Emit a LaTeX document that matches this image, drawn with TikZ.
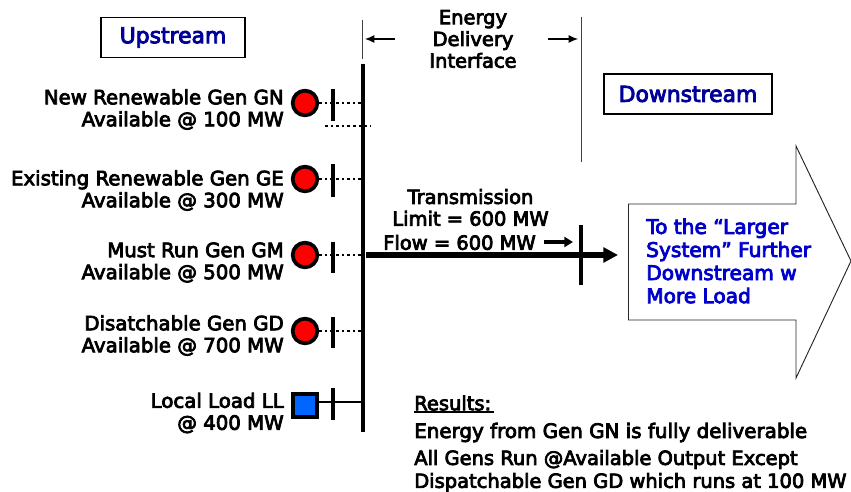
\documentclass[tikz,border=0pt]{standalone}
\usepackage{fontspec}
\setmainfont{DejaVu Sans}[FakeBold=4]
\usetikzlibrary{arrows.meta}
\definecolor{titleblue}{RGB}{0,0,153}
\definecolor{textblue}{RGB}{0,0,204}
\definecolor{genred}{RGB}{255,0,0}
\definecolor{loadblue}{RGB}{0,102,255}
\tikzset{
 x=0.75pt,y=-0.75pt,
 lbl/.style={inner sep=0,font=\fontsize{14.8}{16.5}\selectfont,align=right,anchor=east},
 ctr/.style={inner sep=0,font=\fontsize{14.6}{16.3}\selectfont,align=center},
 res/.style={inner sep=0,font=\fontsize{14.6}{17.2}\selectfont,align=left,anchor=west},
 titlebox/.style={draw=black,line width=0.9pt,fill=white,text=titleblue,font=\fontsize{16.4}{18}\selectfont,inner sep=0},
 gen/.style={circle,draw=black,line width=2.8pt,fill=genred,minimum size=18.5pt,inner sep=0},
 loadbox/.style={rectangle,draw=black,line width=2.8pt,fill=loadblue,minimum size=17.5pt,inner sep=0},
 busline/.style={line width=2.4pt},
 tickline/.style={line width=2.6pt},
 dotline/.style={line width=2pt,dash pattern=on 2pt off 2.2pt},
 thin line/.style={line width=0.7pt,draw=black!75},
}
\begin{document}
\begin{tikzpicture}
\useasboundingbox (0,0) rectangle (851,492);
\node[titlebox,minimum width=108pt,minimum height=30.5pt] (up) at (173,37.5) {\raisebox{-0.7pt}{Upstream}};
\node[titlebox,minimum width=126pt,minimum height=30pt] (down) at (688,94) {Downstream};
\node[ctr] (edi) at (473,39) {Energy\\Delivery\\Interface};
% interface lines
\coordinate (ila) at (362,20); \coordinate (ilb) at (362,59);
\coordinate (ira) at (581,17); \coordinate (irb) at (581,162);
\draw[thin line] (ila) -- (ilb);
\draw[thin line] (ira) -- (irb);
\coordinate (al) at (395,39); \coordinate (ale) at (365,39);
\coordinate (ar) at (548,39); \coordinate (are) at (578,39);
\draw[line width=0.8pt,-{Latex[length=7pt,width=6pt]}] (al) -- (ale);
\draw[line width=0.8pt,-{Latex[length=7pt,width=6pt]}] (ar) -- (are);
% bus
\coordinate (bt) at (363,64); \coordinate (bb) at (363,432);
\draw[busline] (bt) -- (bb);
% generators
\foreach \n/\y/\a/\b in {1/103/89/121,2/179/164/197,3/255/242/273,4/331/317/348}{
  \node[gen] (g\n) at (305,\y) {};
  \coordinate (t\n a) at (333,\a); \coordinate (t\n b) at (333,\b);
  \coordinate (bus\n) at (363,\y);
  \draw[dotline] (g\n) -- (bus\n);
  \draw[tickline] (t\n a) -- (t\n b);
}
\coordinate (da) at (325,126); \coordinate (db) at (371,126);
\draw[dotline] (da) -- (db);
% load
\node[loadbox] (ll) at (305,405.5) {};
\coordinate (llr) at (318,402); \coordinate (bus5) at (365,402);
\draw[line width=2pt] (llr) -- (bus5);
\coordinate (t5a) at (333,388); \coordinate (t5b) at (333,420);
\draw[tickline] (t5a) -- (t5b);
% labels
\node[lbl] (l1) at (284,109.5) {New Renewable Gen GN\\Available @ 100 MW};
\node[lbl] (l2) at (284,190.5) {Existing Renewable Gen GE\\Available @ 300 MW};
\node[lbl] (l3) at (284,262.5) {Must Run Gen GM\\Available @ 500 MW};
\node[lbl] (l4) at (284,335.5) {Disatchable Gen GD\\Available @ 700 MW};
\node[lbl] (l5) at (284,413) {Local Load LL\\@ 400 MW};
% transmission
\node[ctr] (tx) at (470.5,207.5) {Transmission\\Limit = 600 MW};
\node[ctr,anchor=west] (fl) at (383,242.5) {Flow = 600 MW};
\coordinate (ms) at (366,255); \coordinate (me) at (618,255);
\draw[line width=4.4pt,-{Triangle[length=11pt,width=11pt]}] (ms) -- (me);
\coordinate (sa) at (544,242); \coordinate (sb) at (573,242);
\draw[line width=2.4pt,-{Triangle[length=6.5pt,width=7.5pt]}] (sa) -- (sb);
\coordinate (ta) at (581,225); \coordinate (tb) at (581,285);
\draw[tickline] (ta) -- (tb);
% big arrow
\draw[line width=0.7pt,draw=black!85,fill=white] (628.5,204) coordinate (p1) -- (796,204) -- (796,146) -- (851,261) -- (796,378) -- (796,320) -- (628.5,320) -- cycle;
\node[inner sep=0,anchor=west,align=left,text=textblue,font=\fontsize{15.1}{17.3}\selectfont] (big) at (646,261) {To the “Larger\\System” Further\\Downstream w\\More Load};
% results
\node[res] (r0) at (414,403) {Results:};
\coordinate (ua) at (414,412); \coordinate (ub) at (494,412);
\draw[line width=1pt] (ua) -- (ub);
\node[res,font=\fontsize{14.9}{17.2}\selectfont] (r1) at (414,432.5) {Energy from Gen GN is fully deliverable};
\node[res] (r2) at (414,471) {All Gens Run @Available Output Except\\Dispatchable Gen GD which runs at 100 MW};
\end{tikzpicture}
\end{document}
